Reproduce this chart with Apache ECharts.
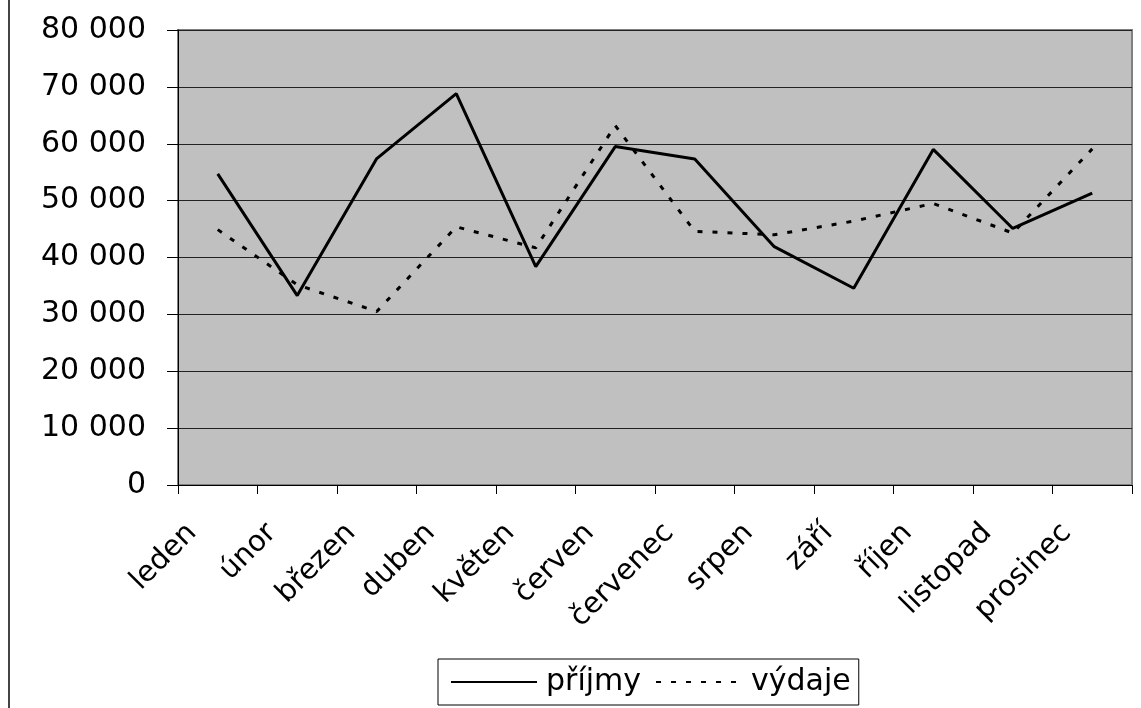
<!DOCTYPE html>
<html>
<head>
<meta charset="utf-8">
<script src="https://cdn.jsdelivr.net/npm/echarts@6/dist/echarts.min.js"></script>
<style>
  html, body { margin: 0; padding: 0; background: #fff; }
  #chart { width: 1141px; height: 708px; }
</style>
</head>
<body>
<div id="chart"></div>
<script>
  var months = ['leden', 'únor', 'březen', 'duben', 'květen', 'červen',
    'červenec', 'srpen', 'září', 'říjen', 'listopad', 'prosinec']
  var prijmy = [54700, 33300, 57400, 68800, 38400, 59500, 57300, 41900, 34600, 59000, 45100, 51300]
  var vydaje = [44900, 35200, 30500, 45400, 41700, 63200, 44600, 44000, 46400, 49500, 44300, 59100]

  var font = 'DejaVu Sans'

  var myChart = echarts.init(document.getElementById('chart'))

  var option = {
    animation: false,
    backgroundColor: '#fff',
    graphic: [{
      type: 'line',
      shape: { x1: 9, y1: 0, x2: 9, y2: 708 },
      style: { stroke: '#444', lineWidth: 2 }
    }],
    grid: {
      left: 178,
      right: 9,
      top: 30,
      bottom: 223,
      show: true,
      backgroundColor: '#c0c0c0',
      borderColor: '#808080',
      borderWidth: 2
    },
    legend: {
      left: 438,
      top: 659,
      padding: [8, 8, 8, 12],
      borderColor: '#000',
      borderWidth: 1,
      itemWidth: 86,
      itemHeight: 14,
      itemGap: 14,
      itemStyle: { opacity: 0 },
      textStyle: { fontFamily: font, fontSize: 30, color: '#000', padding: [0, 0, 0, 4] },
      data: ['příjmy', 'výdaje']
    },
    xAxis: {
      type: 'category',
      data: months,
      boundaryGap: true,
      axisLine: { lineStyle: { color: '#000', width: 1 } },
      axisTick: { show: true, length: 9, lineStyle: { color: '#000' } },
      axisLabel: {
        interval: 0,
        rotate: 45,
        margin: 18,
        padding: [0, 36, 0, 0],
        fontFamily: font,
        fontSize: 29,
        color: '#000'
      }
    },
    yAxis: {
      type: 'value',
      min: 0,
      max: 80000,
      interval: 10000,
      axisLine: { show: true, lineStyle: { color: '#000', width: 1 } },
      axisTick: { show: true, length: 11, lineStyle: { color: '#000' } },
      axisLabel: {
        margin: 32,
        fontFamily: font,
        fontSize: 30,
        color: '#000',
        formatter: function (v) {
          return String(v).replace(/\B(?=(\d{3})+(?!\d))/g, ' ')
        }
      },
      splitLine: { show: true, lineStyle: { color: '#222', width: 1 } }
    },
    series: [
      {
        name: 'příjmy',
        type: 'line',
        data: prijmy,
        symbol: 'none',
        lineStyle: { color: '#000', width: 3, type: 'solid' },
        itemStyle: { color: '#000' }
      },
      {
        name: 'výdaje',
        type: 'line',
        data: vydaje,
        symbol: 'none',
        lineStyle: { color: '#000', width: 3, type: [5, 10] },
        itemStyle: { color: '#000' }
      }
    ]
  }
  myChart.setOption(option)
</script>
</body>
</html>
